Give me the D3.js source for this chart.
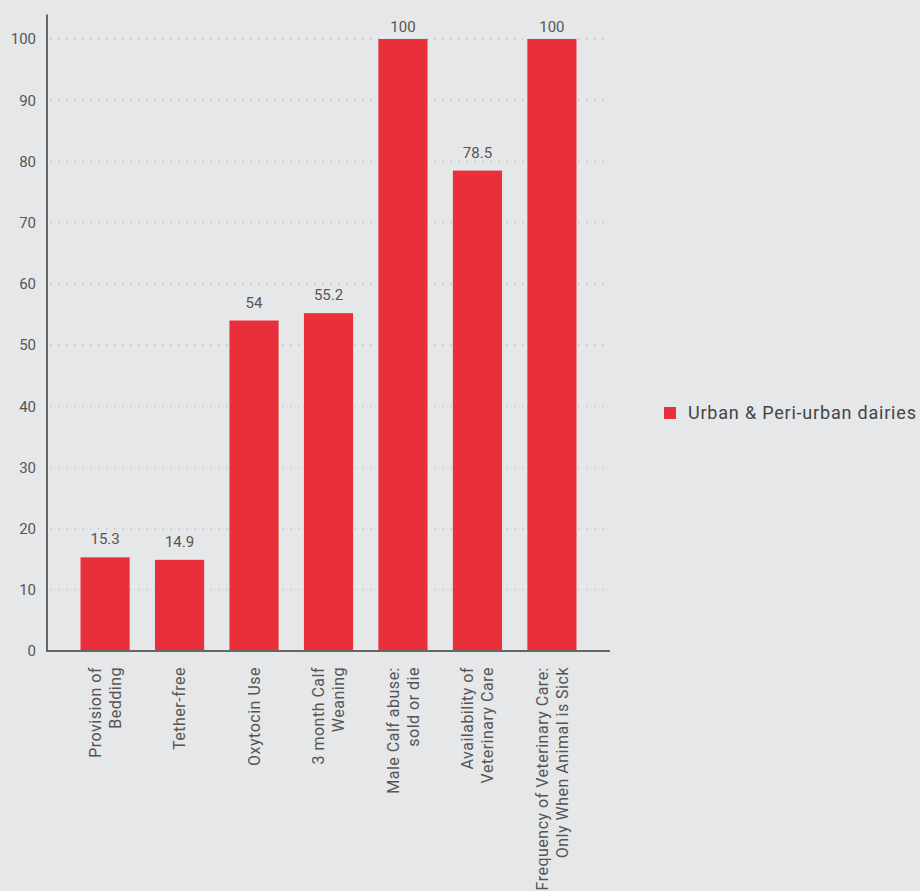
<!DOCTYPE html>
<html>
<head>
<meta charset="utf-8">
<script src="https://cdn.jsdelivr.net/npm/d3@7"></script>
<style>
  body { margin: 0; background: #e6e7e9; }
  svg { display: block; font-family: Roboto, "DejaVu Sans", sans-serif; }
</style>
</head>
<body>
<svg width="920" height="891"></svg>
<script>
var categories = [
  ["Provision of", "Bedding"],
  ["Tether-free"],
  ["Oxytocin Use"],
  ["3 month Calf", "Weaning"],
  ["Male Calf abuse:", "sold or die"],
  ["Availability of", "Veterinary Care"],
  ["Frequency of Veterinary Care:", "Only When Animal is Sick"]
];
var values = [15.3, 14.9, 54, 55.2, 100, 78.5, 100];
var valueLabels = ["15.3", "14.9", "54", "55.2", "100", "78.5", "100"];
var yTicks = [0, 10, 20, 30, 40, 50, 60, 70, 80, 90, 100];
var seriesName = "Urban & Peri-urban dairies";

var barColor = "#e9303a";
var textColor = "#555";

var svg = d3.select("svg");
svg.append("rect").attr("width", 920).attr("height", 891).attr("fill", "#e6e7e9");

var left = 47, right = 610, bottom = 651;

var x = d3.scaleBand()
    .domain(d3.range(categories.length))
    .range([left, right])
    .paddingInner(0.34)
    .paddingOuter(0.45);

var y = d3.scaleLinear()
    .domain([0, 100])
    .range([bottom, 39]);

// gridlines
svg.append("g")
  .selectAll("line")
  .data(yTicks.filter(function(d){ return d > 0; }))
  .enter().append("line")
    .attr("x1", left + 3)
    .attr("x2", right)
    .attr("y1", function(d){ return y(d); })
    .attr("y2", function(d){ return y(d); })
    .attr("stroke", "#c4c5c8")
    .attr("stroke-width", 1.5)
    .attr("stroke-dasharray", "1.5,6.5");

// y axis
var yAxis = d3.axisLeft(y).tickValues(yTicks).tickSize(0).tickPadding(11);
var gy = svg.append("g").attr("transform", "translate(" + left + ",0)").call(yAxis);
gy.select(".domain").remove();
gy.selectAll("text").attr("fill", textColor).style("font-size", "15px").style("font-family", "Roboto, sans-serif");

svg.append("line")
  .attr("x1", left).attr("x2", left)
  .attr("y1", y(104)).attr("y2", bottom + 1)
  .attr("stroke", "#666").attr("stroke-width", 2);

// bars
svg.append("g")
  .selectAll("rect")
  .data(values)
  .enter().append("rect")
    .attr("x", function(d, i){ return x(i); })
    .attr("width", x.bandwidth())
    .attr("y", function(d){ return y(d); })
    .attr("height", function(d){ return y(0) - y(d); })
    .attr("fill", barColor);

// value labels
svg.append("g")
  .selectAll("text")
  .data(values)
  .enter().append("text")
    .attr("x", function(d, i){ return x(i) + x.bandwidth() / 2; })
    .attr("y", function(d){ return Math.max(y(d) - 13, 32); })
    .attr("text-anchor", "middle")
    .attr("fill", textColor)
    .style("font-size", "15px")
    .text(function(d, i){ return valueLabels[i]; });

// x axis line
svg.append("line")
  .attr("x1", left).attr("x2", right)
  .attr("y1", bottom).attr("y2", bottom)
  .attr("stroke", "#666").attr("stroke-width", 2);

// category labels, rotated
var lineGap = 20;
var cat = svg.append("g")
  .selectAll("g")
  .data(categories)
  .enter().append("g")
    .attr("transform", function(d, i){
      return "translate(" + (x(i) + x.bandwidth() / 2) + "," + (bottom + 16) + ") rotate(-90)";
    });
cat.each(function(lines){
  var g = d3.select(this);
  var n = lines.length;
  lines.forEach(function(t, k){
    g.append("text")
      .attr("x", 0)
      .attr("y", (k - (n - 1) / 2) * lineGap)
      .attr("dy", "0.35em")
      .attr("text-anchor", "end")
      .attr("fill", textColor)
      .style("font-size", "16px")
      .style("letter-spacing", "0.5px")
      .text(t);
  });
});

// legend
var legend = svg.append("g").attr("transform", "translate(664,407)");
legend.append("rect").attr("width", 12).attr("height", 12).attr("fill", barColor);
legend.append("text")
  .attr("x", 24).attr("y", 6).attr("dy", "0.35em")
  .attr("fill", "#444")
  .style("font-size", "18px")
  .style("letter-spacing", "0.8px")
  .text(seriesName);
</script>
</body>
</html>
